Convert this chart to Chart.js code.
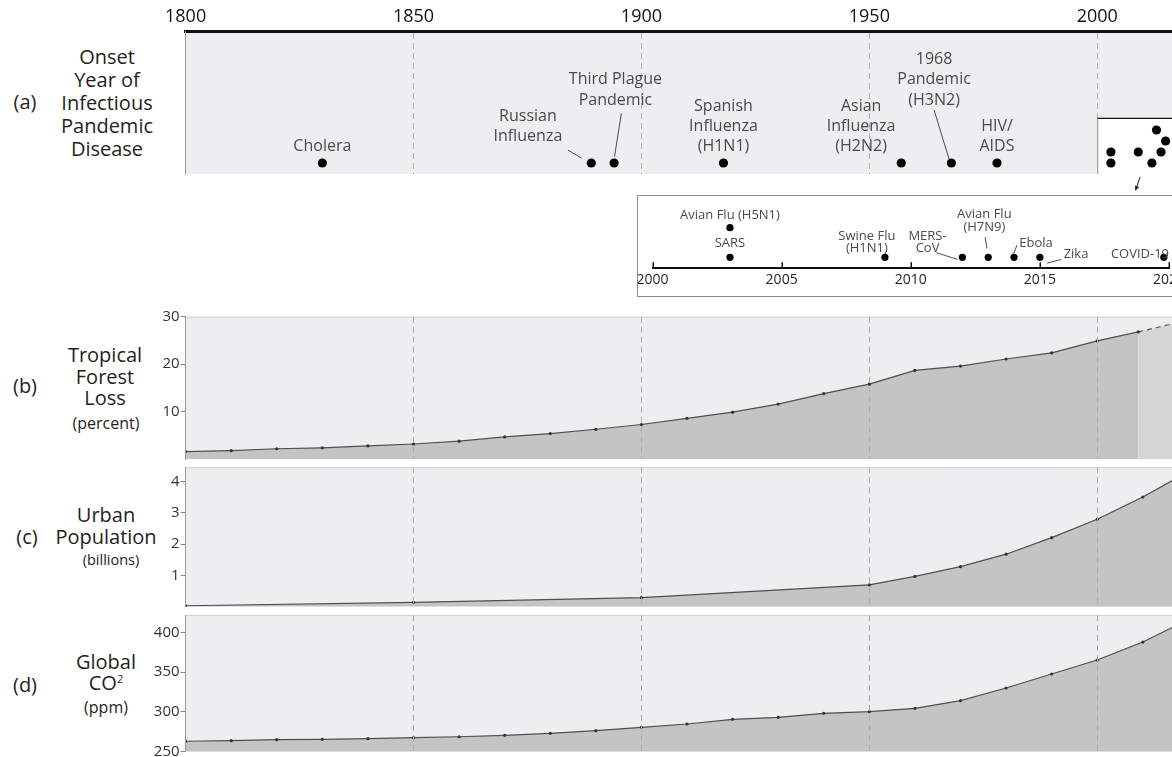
<!DOCTYPE html>
<html>
<head>
<meta charset="utf-8">
<title>Pandemics, forest loss, urbanisation and CO2</title>
<script src="https://cdn.jsdelivr.net/npm/chart.js@4.4.1/dist/chart.umd.min.js"></script>
<style>
  html, body { margin: 0; padding: 0; background: #fff; width: 1172px; height: 757px; overflow: hidden; }
  body { position: relative; font-family: 'Open Sans', sans-serif; color: #231f20; }
  canvas { position: absolute; left: 0; }
  .t { position: absolute; transform: translate(-50%, -50%); white-space: nowrap; line-height: 1; font-size: 20px; }
  .s { font-size: 16px; }
  .t sup { font-size: 11px; vertical-align: 7px; }
  #zoomBox { position: absolute; left: 637px; top: 195px; width: 620px; height: 100px;
             border: 1px solid #8c8c8c; background: #fff; overflow: hidden; }
  #zoomBox canvas { top: 0; }
</style>
</head>
<body>

<!-- row labels -->
<div class="t" style="left:25px;top:102px">(a)</div>
<div class="t" style="left:107px;top:56.7px">Onset</div>
<div class="t" style="left:107px;top:79.7px">Year of</div>
<div class="t" style="left:107px;top:102.7px">Infectious</div>
<div class="t" style="left:107px;top:125.7px">Pandemic</div>
<div class="t" style="left:107px;top:148.7px">Disease</div>

<div class="t" style="left:25px;top:386px">(b)</div>
<div class="t" style="left:105px;top:355px">Tropical</div>
<div class="t" style="left:105px;top:376.7px">Forest</div>
<div class="t" style="left:105px;top:398.3px">Loss</div>
<div class="t s" style="left:106px;top:423.3px">(percent)</div>

<div class="t" style="left:27px;top:537px">(c)</div>
<div class="t" style="left:106px;top:515px">Urban</div>
<div class="t" style="left:106px;top:537.3px">Population</div>
<div class="t s" style="left:111px;top:560px;font-size:14.5px">(billions)</div>

<div class="t" style="left:25px;top:685px">(d)</div>
<div class="t" style="left:106px;top:661.7px">Global</div>
<div class="t" style="left:106px;top:683.3px">CO<sup>2</sup></div>
<div class="t s" style="left:106px;top:707.3px">(ppm)</div>

<canvas id="pandemics" width="1172" height="194" style="top:0"></canvas>
<div id="zoomBox"><canvas id="recent" width="560" height="100"></canvas></div>
<canvas id="forest" width="1172" height="162" style="top:300px"></canvas>
<canvas id="urban" width="1172" height="148" style="top:462px"></canvas>
<canvas id="co2" width="1172" height="147" style="top:610px"></canvas>

<script>
// ---------------- data ----------------
const tickYears = [1800, 1850, 1900, 1950, 2000];
const recentTickYears = [2000, 2005, 2010, 2015, 2020];

const pandemicNames = ['Cholera', 'Russian\nInfluenza', 'Third Plague\nPandemic',
  'Spanish\nInfluenza\n(H1N1)', 'Asian\nInfluenza\n(H2N2)', '1968\nPandemic\n(H3N2)', 'HIV/\nAIDS'];
const pandemicYears = [1830, 1889, 1894, 1918, 1957, 1968, 1978];

const recentNames = ['SARS', 'Avian Flu (H5N1)', 'Swine Flu\n(H1N1)', 'MERS-\nCoV',
  'Avian Flu\n(H7N9)', 'Ebola', 'Zika', 'COVID-19'];
const recentYears = [2003, 2003, 2009, 2012, 2013, 2014, 2015, 2019.8];
const recentStack = [0, 1, 1, 0, 3, 1, 2, 0];   // row inside the compact cluster on the long timeline
const recentRow = [0, 1, 0, 0, 0, 0, 0, 0];     // row on the enlarged 2000-2020 timeline

const forestYears = [1800, 1810, 1820, 1830, 1840, 1850, 1860, 1870, 1880, 1890, 1900,
  1910, 1920, 1930, 1940, 1950, 1960, 1970, 1980, 1990, 2000, 2009];
const forestLoss = [1.6, 1.8, 2.2, 2.4, 2.8, 3.2, 3.8, 4.7, 5.4, 6.3, 7.3,
  8.6, 9.9, 11.6, 13.8, 15.8, 18.7, 19.6, 21.1, 22.4, 24.9, 26.8];
const forestProjYears = [2009, 2020];
const forestProjLoss = [26.8, 29.3];
const forestTicks = [10, 20, 30];

const urbanYears = [1800, 1850, 1900, 1950, 1960, 1970, 1980, 1990, 2000, 2010, 2020];
const urbanPop = [0.03, 0.14, 0.29, 0.70, 0.97, 1.28, 1.68, 2.21, 2.80, 3.51, 4.32];
const urbanTicks = [1, 2, 3, 4];

const co2Years = [1800, 1810, 1820, 1830, 1840, 1850, 1860, 1870, 1880, 1890, 1900,
  1910, 1920, 1930, 1940, 1950, 1960, 1970, 1980, 1990, 2000, 2010, 2020];
const co2Ppm = [263.1, 263.8, 265.1, 265.6, 266.3, 267.6, 268.8, 270.6, 273.1, 276.4, 280.6,
  284.8, 290.7, 293.2, 298.2, 300.3, 304.5, 314.1, 330.0, 347.6, 365.2, 387.7, 416.0];
const co2Ticks = [250, 300, 350, 400];

// ---------------- helpers ----------------
Chart.defaults.font.family = "'Open Sans', sans-serif";
Chart.defaults.color = '#231f20';

const X_MIN = 1800, X_MAX = 2016.4, PLOT_LEFT = 185.6;
const toPoints = (xs, ys) => xs.map((x, i) => ({ x, y: ys[i] }));

// fixed-width y axis so every panel starts at the same x
const fixWidth = (w) => (scale) => { scale.width = w; scale.paddingTop = 0; scale.paddingBottom = 0; };

function yearAxis(extra) {
  return Object.assign({
    type: 'linear', min: X_MIN, max: X_MAX,
    afterBuildTicks: (s) => { s.ticks = tickYears.map(v => ({ value: v })); },
    grid: { drawTicks: false, lineWidth: 1, z: 1,
            color: (c) => (c.tick && c.tick.value === X_MIN ? 'rgba(0,0,0,0)' : '#adadad') },
    border: { display: false, dash: [6, 4] },
    ticks: { display: false }
  }, extra || {});
}

function valueAxis(min, max, tickValues) {
  return {
    type: 'linear', min, max,
    afterBuildTicks: (s) => { s.ticks = tickValues.map(v => ({ value: v })); },
    afterFit: fixWidth(PLOT_LEFT),
    grid: { drawOnChartArea: false, drawTicks: true, tickLength: 5, tickColor: '#8a8a8a', tickWidth: 1 },
    border: { display: true, color: '#9a9a9a', width: 1, z: 1 },
    ticks: { font: { size: 15 }, color: '#333', padding: 1, callback: (v) => String(v) }
  };
}

// light panel background with a thin top rule
const panelBg = {
  id: 'panelBg',
  beforeDraw(chart, args, opts) {
    const { ctx, chartArea: a } = chart;
    ctx.save();
    ctx.fillStyle = opts.color || '#eceef0';
    ctx.fillRect(a.left, a.top, a.right - a.left, a.bottom - a.top);
    if (opts.topRule) {
      ctx.strokeStyle = opts.topRule; ctx.lineWidth = 1;
      ctx.beginPath(); ctx.moveTo(a.left, a.top + 0.5); ctx.lineTo(a.right, a.top + 0.5); ctx.stroke();
    }
    ctx.restore();
  }
};

function drawLabel(ctx, xs, ys, text, note, font, color, gap) {
  const lines = text.split('\n');
  const cx = xs.getPixelForValue(note.x);
  const cy = ys.getPixelForValue(note.y);
  ctx.font = font; ctx.fillStyle = color;
  ctx.textAlign = note.align || 'center'; ctx.textBaseline = 'middle';
  lines.forEach((ln, i) => ctx.fillText(ln, cx, cy - (lines.length - 1 - i) * gap));
  if (note.leader) {
    const [x1, y1, x2, y2] = note.leader;
    ctx.strokeStyle = '#3a3a3a'; ctx.lineWidth = 0.9;
    ctx.beginPath();
    ctx.moveTo(xs.getPixelForValue(x1), ys.getPixelForValue(y1));
    ctx.lineTo(xs.getPixelForValue(x2), ys.getPixelForValue(y2));
    ctx.stroke();
  }
}

function areaSeries(points, fillColor, extra) {
  return Object.assign({
    data: points, borderColor: '#4f4f4f', borderWidth: 1.2, tension: 0,
    pointRadius: 1.6, pointBackgroundColor: '#333', pointBorderWidth: 0,
    fill: 'start', backgroundColor: fillColor
  }, extra || {});
}

function areaChart(id, padTop, padBottom, yAxis, datasets) {
  return new Chart(document.getElementById(id), {
    type: 'line',
    data: { datasets },
    options: {
      responsive: false, animation: false, events: [],
      layout: { autoPadding: false, padding: { left: 0, right: 0, top: padTop, bottom: padBottom } },
      plugins: { legend: { display: false }, tooltip: { enabled: false }, panelBg: { topRule: '#cfd1d3' } },
      scales: { x: yearAxis(), y: yAxis }
    },
    plugins: [panelBg]
  });
}

// ---------------- (a) onset of pandemics ----------------
const pandemicNotes = [
  { x: 1830, y: 1.48 },
  { x: 1875.1, y: 2.39, leader: [1883.9, 1.18, 1886.9, 0.43] },
  { x: 1894.3, y: 5.73, leader: [1895.6, 4.52, 1894.1, 0.57] },
  { x: 1918, y: 1.48 },
  { x: 1948.2, y: 1.48 },
  { x: 1964.2, y: 5.73, leader: [1964.2, 4.82, 1967.5, 0.34] },
  { x: 1978, y: 1.48 }
];

const pandemicNotesPlugin = {
  id: 'pandemicNotes',
  beforeDatasetsDraw(chart) {
    // white box behind the recent cluster
    const { ctx, chartArea: a, scales: { x, y } } = chart;
    const left = x.getPixelForValue(2000), top = y.getPixelForValue(4.06);
    ctx.save();
    ctx.fillStyle = '#fff';
    ctx.fillRect(left, top, a.right - left, a.bottom - top);
    ctx.strokeStyle = '#111'; ctx.lineWidth = 1.3;
    ctx.beginPath(); ctx.moveTo(left, top); ctx.lineTo(a.right, top); ctx.stroke();
    ctx.strokeStyle = '#8a8a8a'; ctx.lineWidth = 1;
    ctx.beginPath(); ctx.moveTo(left + 0.5, top); ctx.lineTo(left + 0.5, a.bottom); ctx.stroke();
    ctx.restore();
  },
  afterDatasetsDraw(chart) {
    const { ctx, chartArea: a, scales: { x, y } } = chart;
    ctx.save();
    pandemicNames.forEach((name, i) =>
      drawLabel(ctx, x, y, name, pandemicNotes[i], '16px "Open Sans"', '#4a4a4a', 20.3));
    // arrow from the cluster down to the enlarged timeline
    const x1 = x.getPixelForValue(2009.4), x2 = x.getPixelForValue(2008.4);
    const y1 = a.bottom + 3, y2 = a.bottom + 16.5;
    ctx.strokeStyle = '#222'; ctx.fillStyle = '#222'; ctx.lineWidth = 1;
    ctx.beginPath(); ctx.moveTo(x1, y1); ctx.lineTo(x2, y2); ctx.stroke();
    const ang = Math.atan2(y2 - y1, x2 - x1);
    ctx.beginPath();
    ctx.moveTo(x2, y2);
    ctx.lineTo(x2 - 5 * Math.cos(ang - 0.45), y2 - 5 * Math.sin(ang - 0.45));
    ctx.lineTo(x2 - 5 * Math.cos(ang + 0.45), y2 - 5 * Math.sin(ang + 0.45));
    ctx.closePath(); ctx.fill();
    ctx.restore();
  }
};

new Chart(document.getElementById('pandemics'), {
  type: 'scatter',
  data: {
    datasets: [{
      data: toPoints(pandemicYears, pandemicYears.map(() => 0))
        .concat(toPoints(recentYears, recentStack)),
      pointRadius: 4.6, pointBackgroundColor: '#000', pointBorderWidth: 0
    }]
  },
  options: {
    responsive: false, animation: false, events: [],
    layout: { autoPadding: false, padding: { left: 0, right: 0, top: 1.4, bottom: 20 } },
    plugins: { legend: { display: false }, tooltip: { enabled: false }, panelBg: {} },
    scales: {
      x: yearAxis({
        position: 'top',
        grid: { drawTicks: false, lineWidth: 1, z: -1,
                color: (c) => (c.tick && c.tick.value === X_MIN ? 'rgba(0,0,0,0)' : '#b5b5b5') },
        border: { display: true, color: '#111', width: 3, dash: [6, 4] },
        ticks: { display: true, font: { size: 18 }, color: '#111', padding: 4.5, callback: (v) => String(v) },
        afterFit: (s) => { s.paddingLeft = 0; s.paddingRight = 0; }
      }),
      y: {
        type: 'linear', min: -1, max: 11.91,
        afterFit: fixWidth(PLOT_LEFT),
        grid: { display: false, drawTicks: false },
        border: { display: true, color: '#9a9a9a', width: 1 },
        ticks: { display: false }
      }
    }
  },
  plugins: [panelBg, pandemicNotesPlugin]
});

// ---------------- enlarged 2000-2020 timeline ----------------
const recentNotes = [
  { x: 2003, y: 0.48 },
  { x: 2003, y: 1.43 },
  { x: 2008.3, y: 0.30 },
  { x: 2010.65, y: 0.30, leader: [2011.0, 0.155, 2011.8, -0.07] },
  { x: 2012.85, y: 1.03, leader: [2012.88, 0.68, 2012.95, 0.30] },
  { x: 2014.85, y: 0.48, leader: [2014.11, 0.41, 2013.98, 0.11] },
  { x: 2016.4, y: 0.11, leader: [2015.28, -0.20, 2015.83, -0.07] },
  { x: 2017.75, y: 0.11, align: 'left' }
];

const recentNotesPlugin = {
  id: 'recentNotes',
  afterDatasetsDraw(chart) {
    const { ctx, scales: { x, y } } = chart;
    ctx.save();
    recentNames.forEach((name, i) =>
      drawLabel(ctx, x, y, name, recentNotes[i], '13px "Open Sans"', '#4a4a4a', 12.5));
    ctx.restore();
  },
  afterDraw(chart) {
    // short tick marks rising from the axis line
    const { ctx, chartArea: a, scales: { x } } = chart;
    ctx.save();
    ctx.strokeStyle = '#111'; ctx.lineWidth = 1.5;
    recentTickYears.forEach(v => {
      const px = Math.round(x.getPixelForValue(v)) + 0.25;
      ctx.beginPath(); ctx.moveTo(px, a.bottom - 6); ctx.lineTo(px, a.bottom); ctx.stroke();
    });
    ctx.restore();
  }
};

new Chart(document.getElementById('recent'), {
  type: 'scatter',
  data: { datasets: [{ data: toPoints(recentYears, recentRow), pointRadius: 3.6,
                       pointBackgroundColor: '#000', pointBorderWidth: 0, clip: false }] },
  options: {
    responsive: false, animation: false, events: [],
    layout: { autoPadding: false, padding: { left: 14.5, right: 29, top: 2, bottom: 4.9 } },
    plugins: { legend: { display: false }, tooltip: { enabled: false } },
    scales: {
      x: {
        type: 'linear', min: 2000, max: 2020,
        afterBuildTicks: (s) => { s.ticks = recentTickYears.map(v => ({ value: v })); },
        afterFit: (s) => { s.paddingLeft = 0; s.paddingRight = 0; },
        grid: { display: true, drawOnChartArea: false, drawTicks: false },
        border: { display: true, color: '#111', width: 2 },
        ticks: { font: { size: 14 }, color: '#231f20', padding: 3, maxRotation: 0, callback: (v) => String(v) }
      },
      y: { type: 'linear', min: -0.372, max: 2.003, display: false }
    }
  },
  plugins: [recentNotesPlugin]
});

// ---------------- (b) (c) (d) area panels ----------------
areaChart('forest', 16.7, 2.8, valueAxis(0, 30, forestTicks), [
  areaSeries(toPoints(forestYears, forestLoss), '#c4c4c4'),
  areaSeries(toPoints(forestProjYears, forestProjLoss), '#d5d5d5',
             { borderDash: [5, 4], pointRadius: 0, borderColor: '#5a5a5a' })
]);

areaChart('urban', 5.3, 3.3, valueAxis(0, 4.46, urbanTicks), [
  areaSeries(toPoints(urbanYears, urbanPop), '#c4c4c4')
]);

areaChart('co2', 5, 5.3, valueAxis(250, 421.7, co2Ticks), [
  areaSeries(toPoints(co2Years, co2Ppm), '#c4c4c4')
]);
</script>
</body>
</html>
